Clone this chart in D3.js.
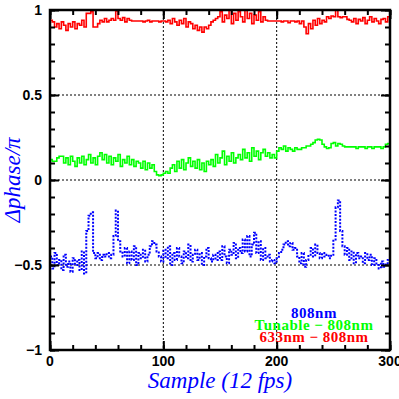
<!DOCTYPE html>
<html>
<head>
<meta charset="utf-8">
<script src="https://cdn.jsdelivr.net/npm/d3@7"></script>
<style>
  body { margin: 0; background: #fff; }
  .tick-label { font-family: "Liberation Sans", Arial, sans-serif; font-weight: bold; font-size: 14px; }
  .axis-title { font-family: "Liberation Serif", "Times New Roman", serif; font-style: italic; font-size: 23px; fill: #0000ff; }
  .legend { font-family: "Liberation Serif", "Times New Roman", serif; font-weight: bold; font-size: 15px; letter-spacing: 0.5px; }
</style>
</head>
<body>
<div id="chart"></div>
<script>
// one reading every 2 samples
var sampleStep = 2;

var red633 = [
  0.94, 0.93, 0.90, 0.92, 0.89, 0.93, 0.91, 0.88, 0.92, 0.90, 0.93, 0.89, 0.92, 0.91, 0.94, 0.90,
  0.98, 0.98, 0.99,
  0.90, 0.90, 0.92,
  0.94, 0.93, 0.95, 0.93, 0.94, 0.95, 0.94,
  0.995,
  0.95, 0.94, 0.955, 0.93, 0.95, 0.94,
  0.935, 0.935, 0.935, 0.935, 0.935, 0.93, 0.935, 0.94, 0.93, 0.935, 0.935, 0.935, 0.93, 0.935,
  0.935, 0.93, 0.94, 0.92, 0.95, 0.93, 0.91, 0.94, 0.92, 0.95, 0.90, 0.93, 0.92,
  0.89, 0.91, 0.88, 0.90, 0.87, 0.90, 0.89,
  0.91, 0.93, 0.94, 0.95,
  0.96, 0.99, 0.93, 0.97, 0.95, 1.0, 0.92, 0.98, 0.94, 0.99, 0.96, 0.93, 1.0, 0.95, 0.98, 0.92, 0.97, 0.94, 0.99, 0.93, 0.96, 0.94,
  0.935, 0.935, 0.935, 0.935, 0.935, 0.935, 0.93, 0.935, 0.935, 0.925, 0.935,
  0.935, 0.93, 0.935, 0.92, 0.935, 0.90,
  0.86, 0.92, 0.89, 0.94, 0.91, 0.95, 0.92, 0.94, 0.93,
  0.96, 0.95, 0.965, 0.96,
  1.0,
  0.96, 0.955, 0.96, 0.96, 0.945,
  0.94, 0.93, 0.95, 0.92, 0.945, 0.935, 0.955, 0.92, 0.94, 0.96, 0.93, 0.95, 0.935, 0.92, 0.945, 0.95, 0.93, 0.96
];

var greenTunable = [
  0.12, 0.11, 0.11, 0.13, 0.14,
  0.14, 0.10, 0.13, 0.09, 0.14, 0.11, 0.08, 0.13, 0.10, 0.14, 0.09, 0.12, 0.15, 0.10, 0.13, 0.09, 0.14,
  0.16, 0.12, 0.15,
  0.10, 0.14, 0.09, 0.13, 0.11, 0.15, 0.08, 0.12, 0.10, 0.14, 0.09, 0.12, 0.08, 0.11, 0.10,
  0.07, 0.11, 0.06, 0.10, 0.07, 0.09, 0.05,
  0.03, 0.025, 0.03, 0.04,
  0.05, 0.04, 0.07,
  0.09, 0.05, 0.11, 0.07, 0.12, 0.06, 0.10, 0.13, 0.08, 0.11, 0.07, 0.12,
  0.06, 0.10, 0.05, 0.11, 0.09,
  0.12, 0.08, 0.15, 0.10, 0.13, 0.17, 0.09, 0.14, 0.11, 0.16, 0.10, 0.13, 0.15,
  0.12, 0.18, 0.13, 0.16, 0.11, 0.19, 0.14, 0.17, 0.12, 0.16, 0.18, 0.14,
  0.16, 0.13, 0.15, 0.13,
  0.17, 0.19, 0.18, 0.20, 0.17, 0.19, 0.18, 0.17, 0.19, 0.18, 0.18,
  0.19, 0.19, 0.20, 0.20, 0.21, 0.22,
  0.235, 0.24, 0.235,
  0.21, 0.195, 0.185, 0.19,
  0.215, 0.22, 0.20, 0.215,
  0.21, 0.20, 0.195, 0.195, 0.195,
  0.195, 0.195, 0.185, 0.195, 0.195, 0.195, 0.185, 0.195, 0.195, 0.185, 0.195, 0.195, 0.195, 0.185, 0.195,
  0.21, 0.215
];

var blue808 = [
  -0.45, -0.52, -0.43, -0.50, -0.47, -0.53, -0.44, -0.51, -0.48, -0.54, -0.46, -0.50, -0.47,
  -0.53, -0.42, -0.55,
  -0.30, -0.21, -0.19, -0.43,
  -0.46, -0.43, -0.47, -0.44, -0.45, -0.43, -0.46, -0.44,
  -0.33, -0.18, -0.36, -0.42,
  -0.45, -0.40, -0.49, -0.42, -0.47, -0.39, -0.50, -0.43, -0.46, -0.41, -0.48, -0.44,
  -0.39, -0.36, -0.38, -0.42,
  -0.45, -0.48, -0.41, -0.46, -0.39, -0.50, -0.43, -0.47, -0.40, -0.45, -0.49, -0.42, -0.46,
  -0.38, -0.48, -0.44, -0.41, -0.47, -0.43, -0.50, -0.45, -0.40, -0.46, -0.48, -0.44, -0.47,
  -0.42, -0.47, -0.39, -0.45, -0.49, -0.41, -0.44, -0.37, -0.46, -0.40, -0.43,
  -0.35, -0.42, -0.33, -0.45, -0.38, -0.31, -0.43, -0.36, -0.47,
  -0.40, -0.46, -0.44, -0.48, -0.47, -0.49,
  -0.46, -0.43, -0.41,
  -0.38, -0.36, -0.39, -0.37, -0.41, -0.40,
  -0.45, -0.49, -0.43, -0.51, -0.47, -0.44,
  -0.40, -0.45, -0.38, -0.43, -0.46,
  -0.43, -0.45, -0.44, -0.46, -0.44,
  -0.35, -0.16, -0.12, -0.30, -0.39,
  -0.44, -0.40, -0.47, -0.42, -0.49, -0.43, -0.46,
  -0.45, -0.49, -0.43, -0.47, -0.44, -0.50, -0.46,
  -0.50, -0.52, -0.48, -0.51, -0.49,
  -0.47
];

var xMajorTicks = [0, 100, 200, 300];
var yMajorTicks = [-1, -0.5, 0, 0.5, 1];
var yTickLabels = ["\u22121", "\u22120.5", "0", "0.5", "1"];
var legendLabels = ["808nm", "Tunable \u2212 808nm", "633nm \u2212 808nm"];
var legendColors = ["#0000ff", "#00ff00", "#ff0000"];

var svgWidth = 399;
var svgHeight = 399;
var margin = { top: 10, right: 9, bottom: 49, left: 50 };
var width = svgWidth - margin.left - margin.right;
var height = svgHeight - margin.top - margin.bottom;

var svg = d3.select("#chart")
  .append("svg")
  .attr("width", svgWidth)
  .attr("height", svgHeight);

var chartGroup = svg.append("g")
  .attr("transform", `translate(${margin.left}, ${margin.top})`);

var x = d3.scaleLinear().domain([0, 300]).range([0, width]);
var y = d3.scaleLinear().domain([-1, 1]).range([height, 0]);

chartGroup.append("clipPath")
  .attr("id", "plotClip")
  .append("rect")
  .attr("width", width)
  .attr("height", height);

// dotted grid at inner major ticks
chartGroup.append("g")
  .selectAll("line")
  .data([100, 200])
  .enter()
  .append("line")
  .attr("x1", d => x(d)).attr("x2", d => x(d))
  .attr("y1", 0).attr("y2", height)
  .attr("stroke", "#000").attr("stroke-width", 1)
  .attr("stroke-dasharray", "2,2");

chartGroup.append("g")
  .selectAll("line")
  .data([-0.5, 0, 0.5])
  .enter()
  .append("line")
  .attr("x1", 0).attr("x2", width)
  .attr("y1", d => y(d)).attr("y2", d => y(d))
  .attr("stroke", "#000").attr("stroke-width", 1)
  .attr("stroke-dasharray", "2,2");

// series
var line = d3.line()
  .x((d, i) => x(i * sampleStep))
  .y(d => y(d))
  .curve(d3.curveStepAfter);

var series = [
  { values: blue808, color: "#0000ff", dash: "2,1.5", w: 2 },
  { values: greenTunable, color: "#00ff00", dash: null, w: 1.6 },
  { values: red633, color: "#ff0000", dash: null, w: 1.6 }
];

series.forEach(function(s) {
  chartGroup.append("path")
    .datum(s.values.concat([s.values[s.values.length - 1]]))
    .attr("clip-path", "url(#plotClip)")
    .attr("fill", "none")
    .attr("stroke", s.color)
    .attr("stroke-width", s.w)
    .attr("stroke-dasharray", s.dash)
    .attr("d", line);
});

// axes with inward ticks on all sides
function addXAxis(axisFn, yPos) {
  var minor = axisFn(x).tickValues(d3.range(0, 301, 20)).tickSize(5).tickFormat("");
  var major = axisFn(x).tickValues(xMajorTicks).tickSize(9).tickFormat("");
  [minor, major].forEach(function(a) {
    var g = chartGroup.append("g").attr("transform", `translate(0, ${yPos})`).call(a);
    g.select(".domain").remove();
    g.selectAll("line").attr("stroke", "#000").attr("stroke-width", 2);
  });
}
function addYAxis(axisFn, xPos) {
  var minor = axisFn(y).tickValues(d3.range(-10, 11).map(d => d / 10)).tickSize(5).tickFormat("");
  var major = axisFn(y).tickValues(yMajorTicks).tickSize(9).tickFormat("");
  [minor, major].forEach(function(a) {
    var g = chartGroup.append("g").attr("transform", `translate(${xPos}, 0)`).call(a);
    g.select(".domain").remove();
    g.selectAll("line").attr("stroke", "#000").attr("stroke-width", 2);
  });
}
addXAxis(d3.axisTop, height);
addXAxis(d3.axisBottom, 0);
addYAxis(d3.axisRight, 0);
addYAxis(d3.axisLeft, width);

chartGroup.append("rect")
  .attr("width", width)
  .attr("height", height)
  .attr("fill", "none")
  .attr("stroke", "#000")
  .attr("stroke-width", 2.5);

// tick labels
chartGroup.append("g")
  .selectAll("text")
  .data(xMajorTicks)
  .enter()
  .append("text")
  .attr("class", "tick-label")
  .attr("x", d => x(d))
  .attr("y", height + 16)
  .attr("text-anchor", "middle")
  .text(d => d);

chartGroup.append("g")
  .selectAll("text")
  .data(yMajorTicks)
  .enter()
  .append("text")
  .attr("class", "tick-label")
  .attr("x", -8)
  .attr("y", d => y(d) + 5)
  .attr("text-anchor", "end")
  .text((d, i) => yTickLabels[i]);

// axis titles
svg.append("text")
  .attr("class", "axis-title")
  .attr("x", margin.left + width / 2)
  .attr("y", 388)
  .attr("text-anchor", "middle")
  .text("Sample (12 fps)");

svg.append("text")
  .attr("class", "axis-title")
  .attr("transform", `translate(20, ${margin.top + height / 2}) rotate(-90)`)
  .attr("text-anchor", "middle")
  .text("\u0394phase/\u03c0");

// legend
svg.append("g")
  .selectAll("text")
  .data(legendLabels)
  .enter()
  .append("text")
  .attr("class", "legend")
  .attr("x", 314)
  .attr("y", (d, i) => 318 + i * 12)
  .attr("text-anchor", "middle")
  .attr("fill", (d, i) => legendColors[i])
  .text(d => d);
</script>
</body>
</html>
